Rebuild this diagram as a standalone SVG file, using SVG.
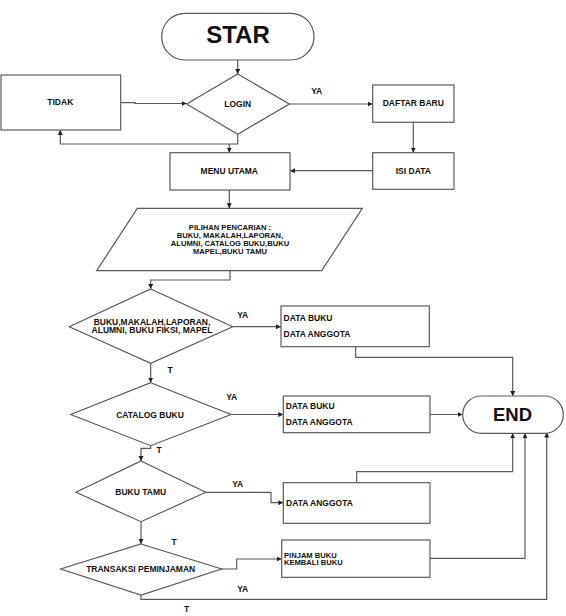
<svg xmlns="http://www.w3.org/2000/svg" width="566" height="616" viewBox="0 0 566 616">
<defs>
<marker id="arr" viewBox="0 0 10 10" refX="10" refY="5" markerWidth="5" markerHeight="5" orient="auto" markerUnits="userSpaceOnUse">
<path d="M0,0 L10,5 L0,10 z" fill="#222"/>
</marker>
<style>
.shape{fill:#fff;stroke:#5a5a5a;stroke-width:1.2}
.ln{fill:none;stroke:#5a5a5a;stroke-width:1.2}
.arw{marker-end:url(#arr)}
.t{font-family:"Liberation Sans",Arial,sans-serif;font-weight:bold;font-size:8.5px;fill:#111}
.s{font-size:7.6px}
.c{text-anchor:middle}
.big{font-family:"Liberation Sans",Arial,sans-serif;font-weight:bold;fill:#111;text-anchor:middle}
</style>
</defs>
<rect width="566" height="616" fill="#fff"/>

<g id="connectors">
<path class="ln arw" d="M237.7,60 V74"/>
<path class="ln arw" d="M120.7,102.7 H135 V103.5 H186.7"/>
<path class="ln arw" d="M237.7,134.3 V144 H60.3 V130"/>
<path class="ln arw" d="M229.3,144 V152.7"/>
<path class="ln arw" d="M289.3,104 H372.7"/>
<path class="ln arw" d="M413.3,122.3 V152.7"/>
<path class="ln arw" d="M372.7,170.7 H290"/>
<path class="ln arw" d="M229.3,190 V208.3"/>
<path class="ln arw" d="M230,270.7 V280 H150.7 V289"/>
<path class="ln arw" d="M232.7,326.7 H281"/>
<path class="ln arw" d="M355.7,346.7 V357.3 H512.7 V396"/>
<path class="ln arw" d="M150.7,363.3 V382.7"/>
<path class="ln arw" d="M231,414.5 H283.3"/>
<path class="ln arw" d="M430,414.5 H462.7"/>
<path class="ln arw" d="M150.7,445.7 V448.3 H141 V461"/>
<path class="ln arw" d="M205.7,492.3 H271 V502.7 H283.3"/>
<path class="ln arw" d="M356.7,482.7 V471.7 H512.7 V433.3"/>
<path class="ln arw" d="M141,521.7 V544"/>
<path class="ln arw" d="M221.7,569 H236.7 V559 H281.7"/>
<path class="ln arw" d="M430,558.3 H525 V433.3"/>
<path class="ln arw" d="M141,595 V599.3 H546.7 V432.5"/>
</g>

<g id="labels">
<text class="t c" x="316.7" y="93.7">YA</text>
<text class="t c" x="242.7" y="318.3">YA</text>
<text class="t c" x="170" y="373">T</text>
<text class="t c" x="231.7" y="399.7">YA</text>
<text class="t c" x="159" y="453">T</text>
<text class="t c" x="237.7" y="487.3">YA</text>
<text class="t c" x="174" y="544.7">T</text>
<text class="t c" x="242.7" y="592.3">YA</text>
<text class="t c" x="186.7" y="612">T</text>
</g>

<g id="star">
<rect class="shape" x="161.7" y="13.3" width="152.3" height="46.7" rx="23.3"/>
<text class="big" x="238" y="43" font-size="24">STAR</text>
</g>

<g id="login">
<polygon class="shape" points="237.7,74 289.3,104 237.7,134.3 186.7,104"/>
<text class="t c" x="237.7" y="107">LOGIN</text>
</g>

<g id="tidak">
<rect class="shape" x="1" y="75" width="119.7" height="55"/>
<text class="t c" x="60.3" y="105.3">TIDAK</text>
</g>

<g id="daftar-baru">
<rect class="shape" x="372.7" y="85" width="81.3" height="37.3"/>
<text class="t c" x="413.3" y="106.3">DAFTAR BARU</text>
</g>

<g id="isi-data">
<rect class="shape" x="372.7" y="152.7" width="81.3" height="36.6"/>
<text class="t c" x="413.3" y="173.7">ISI DATA</text>
</g>

<g id="menu-utama">
<rect class="shape" x="170" y="152.7" width="120" height="37.3"/>
<text class="t c" x="229.3" y="174">MENU UTAMA</text>
</g>

<g id="pilihan">
<polygon class="shape" points="137.3,208.3 362.3,208.3 321.7,270.7 96.7,270.7"/>
<text class="t s c" x="230" y="230">PILIHAN PENCARIAN :</text>
<text class="t s c" x="230" y="238">BUKU, MAKALAH,LAPORAN,</text>
<text class="t s c" x="230" y="246">ALUMNI, CATALOG BUKU,BUKU</text>
<text class="t s c" x="230" y="254">MAPEL,BUKU TAMU</text>
</g>

<g id="decision-buku">
<polygon class="shape" points="150.7,289 232.7,326.7 150.7,363.3 69.3,326.7"/>
<text class="t c" x="152" y="324.5" font-size="7.8px">BUKU,MAKALAH,LAPORAN,</text>
<text class="t c" x="152" y="333" font-size="7.8px">ALUMNI, BUKU FIKSI, MAPEL</text>
</g>

<g id="box-data-1">
<rect class="shape" x="281" y="306" width="148.3" height="40.7"/>
<text class="t" x="283.5" y="321">DATA BUKU</text>
<text class="t" x="283.5" y="336.7">DATA ANGGOTA</text>
</g>

<g id="decision-catalog">
<polygon class="shape" points="150.7,382.7 231,414.5 150.7,445.7 70.7,414.5"/>
<text class="t c" x="150" y="417.5">CATALOG BUKU</text>
</g>

<g id="box-data-2">
<rect class="shape" x="283.3" y="396" width="146.7" height="36.7"/>
<text class="t" x="285.7" y="409">DATA BUKU</text>
<text class="t" x="285.7" y="424.7">DATA ANGGOTA</text>
</g>

<g id="end">
<rect class="shape" x="462.7" y="396" width="100.6" height="37.3" rx="18.7"/>
<text class="big" x="512.5" y="421" font-size="18.5">END</text>
</g>

<g id="decision-buku-tamu">
<polygon class="shape" points="141,461 205.7,492.3 141,521.7 76,492.3"/>
<text class="t c" x="140.7" y="495.3">BUKU TAMU</text>
</g>

<g id="box-data-3">
<rect class="shape" x="283.3" y="482.7" width="146.7" height="40.6"/>
<text class="t" x="286" y="505.7">DATA ANGGOTA</text>
</g>

<g id="decision-transaksi">
<polygon class="shape" points="141,544 221.7,569 141,595 60.7,569"/>
<text class="t c" x="140.7" y="572">TRANSAKSI PEMINJAMAN</text>
</g>

<g id="box-pinjam">
<rect class="shape" x="281.7" y="540" width="148.3" height="37.3"/>
<text class="t s" x="284" y="557.5">PINJAM BUKU</text>
<text class="t s" x="284" y="565.3">KEMBALI BUKU</text>
</g>
</svg>
